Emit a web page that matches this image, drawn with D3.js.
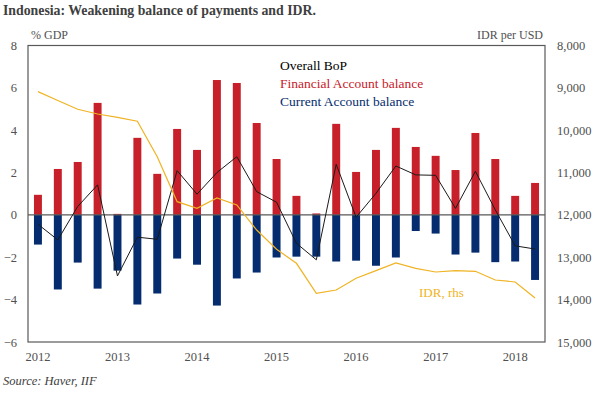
<!DOCTYPE html>
<html>
<head>
<meta charset="utf-8">
<script src="https://cdn.jsdelivr.net/npm/d3@7"></script>
<style>
  body { margin: 0; background: #fff; }
  svg text { font-family: "Liberation Serif", "DejaVu Serif", serif; }
</style>
</head>
<body>
<div id="container"></div>
<script>
// Quarterly data, 2012Q1 - 2018Q2
const quarters = [
    "2012Q1", "2012Q2", "2012Q3", "2012Q4",
    "2013Q1", "2013Q2", "2013Q3", "2013Q4",
    "2014Q1", "2014Q2", "2014Q3", "2014Q4",
    "2015Q1", "2015Q2", "2015Q3", "2015Q4",
    "2016Q1", "2016Q2", "2016Q3", "2016Q4",
    "2017Q1", "2017Q2", "2017Q3", "2017Q4",
    "2018Q1", "2018Q2"
];
const financialAccount = [
    0.95, 2.17, 2.50, 5.29, 0.05, 3.64, 1.94, 4.06, 3.07, 6.37,
    6.23, 4.34, 2.64, 0.90, 0.07, 4.30, 2.03, 3.07, 4.11, 3.21,
    2.79, 2.12, 3.87, 2.64, 0.90, 1.51
];
const currentAccount = [
    -1.40, -3.52, -2.25, -3.48, -2.63, -4.23, -3.71, -2.06, -2.35, -4.28,
    -3.00, -2.72, -2.01, -1.97, -1.97, -2.20, -2.16, -2.40, -2.01, -0.76,
    -0.88, -1.87, -1.78, -2.23, -2.20, -3.07
];
const overallBoP = [
    -0.44, -1.18, 0.40, 1.42, -2.88, -1.05, -1.15, 2.09, 0.98, 2.00,
    2.75, 1.10, 0.60, -1.34, -2.12, 2.39, -0.11, 1.02, 2.31, 1.89,
    1.87, 0.31, 2.06, 0.24, -1.46, -1.61
];
const idr = [
    9090, 9300, 9505, 9617, 9695, 9789, 10625, 11687, 11843, 11600,
    11765, 12356, 12811, 13142, 13850, 13772, 13496, 13316, 13135, 13260,
    13347, 13316, 13331, 13536, 13583, 13961
];
const leftTicks = [-6, -4, -2, 0, 2, 4, 6, 8];
const rightTicks = [8000, 9000, 10000, 11000, 12000, 13000, 14000, 15000];
const yearTicks = ["2012Q1", "2013Q1", "2014Q1", "2015Q1", "2016Q1", "2017Q1", "2018Q1"];

const width = 602, height = 393;
const marginTop = 45.5, marginRight = 57, marginBottom = 51, marginLeft = 28;

const red = "#C8202A", blue = "#052C6E", orange = "#F0B323", grey = "#595959";
const serif = "'Liberation Serif', 'DejaVu Serif', serif";

const svg = d3.select("#container").append("svg")
    .attr("width", width)
    .attr("height", height);

// Scales
const x = d3.scaleBand()
    .domain(quarters)
    .range([marginLeft, width - marginRight])
    .paddingInner(0.6)
    .paddingOuter(0.3);
const xc = q => x(q) + x.bandwidth() / 2;

const y = d3.scaleLinear()
    .domain([-6, 8])
    .range([height - marginBottom, marginTop]);

const y2 = d3.scaleLinear()
    .domain([15000, 8000])
    .range([height - marginBottom, marginTop]);

// Title
svg.append("text")
    .attr("x", 3).attr("y", 15)
    .attr("font-size", 13.8).attr("font-weight", "bold")
    .attr("fill", "#404040")
    .text("Indonesia: Weakening balance of payments and IDR.");

// Axis titles
svg.append("text")
    .attr("x", 31).attr("y", 39)
    .attr("font-size", 12).attr("fill", "#505050")
    .text("% GDP");
svg.append("text")
    .attr("x", 543).attr("y", 39)
    .attr("text-anchor", "end")
    .attr("font-size", 12).attr("fill", "#505050")
    .text("IDR per USD");

// Bars
svg.append("g").selectAll("rect")
    .data(quarters)
    .join("rect")
    .attr("x", q => x(q))
    .attr("width", x.bandwidth())
    .attr("y", (q, i) => y(financialAccount[i]))
    .attr("height", (q, i) => y(0) - y(financialAccount[i]))
    .attr("fill", red);

svg.append("g").selectAll("rect")
    .data(quarters)
    .join("rect")
    .attr("x", q => x(q))
    .attr("width", x.bandwidth())
    .attr("y", y(0))
    .attr("height", (q, i) => y(currentAccount[i]) - y(0))
    .attr("fill", blue);

// Zero line
svg.append("line")
    .attr("x1", marginLeft).attr("x2", width - marginRight)
    .attr("y1", y(0)).attr("y2", y(0))
    .attr("stroke", grey).attr("stroke-width", 1.3);

// Lines
const bopLine = d3.line()
    .x((d, i) => xc(quarters[i]))
    .y(d => y(d));
svg.append("path")
    .datum(overallBoP)
    .attr("fill", "none")
    .attr("stroke", "#1a1a1a")
    .attr("stroke-width", 1)
    .attr("d", bopLine);

const idrLine = d3.line()
    .x((d, i) => xc(quarters[i]))
    .y(d => y2(d));
svg.append("path")
    .datum(idr)
    .attr("fill", "none")
    .attr("stroke", orange)
    .attr("stroke-width", 1.2)
    .attr("d", idrLine);

// Frame
svg.append("rect")
    .attr("x", marginLeft).attr("y", marginTop)
    .attr("width", width - marginRight - marginLeft)
    .attr("height", height - marginBottom - marginTop)
    .attr("fill", "none")
    .attr("stroke", grey).attr("stroke-width", 1.2);

// Axes
const styleAxis = g => {
    g.attr("font-family", serif);
    g.select(".domain").remove();
    g.selectAll(".tick line").remove();
    g.selectAll("text")
        .style("font-family", serif)
        .attr("font-size", 12.5)
        .attr("fill", "#505050");
};

svg.append("g")
    .attr("transform", `translate(${marginLeft},0)`)
    .call(d3.axisLeft(y).tickValues(leftTicks).tickSize(0).tickPadding(11))
    .call(styleAxis);

svg.append("g")
    .attr("transform", `translate(${width - marginRight},0)`)
    .call(d3.axisRight(y2).tickValues(rightTicks).tickSize(0).tickPadding(12).tickFormat(d3.format(",")))
    .call(styleAxis);

svg.append("g")
    .attr("transform", `translate(0,${height - marginBottom})`)
    .call(d3.axisBottom(x).tickValues(yearTicks).tickSize(0).tickPadding(10).tickFormat(q => q.slice(0, 4)))
    .call(styleAxis);

// Legend
const legend = [
    { label: "Overall BoP", color: "#000" },
    { label: "Financial Account balance", color: red },
    { label: "Current Account balance", color: blue }
];
svg.append("g").selectAll("text")
    .data(legend)
    .join("text")
    .attr("x", 280)
    .attr("y", (d, i) => 70 + i * 18)
    .attr("font-size", 13.5)
    .attr("fill", d => d.color)
    .text(d => d.label);

svg.append("text")
    .attr("x", 419).attr("y", 297)
    .attr("font-size", 13)
    .attr("fill", orange)
    .text("IDR, rhs");

// Source
svg.append("text")
    .attr("x", 3).attr("y", 385)
    .attr("font-size", 12.5).attr("font-style", "italic")
    .attr("fill", "#404040")
    .text("Source: Haver, IIF");
</script>
</body>
</html>
